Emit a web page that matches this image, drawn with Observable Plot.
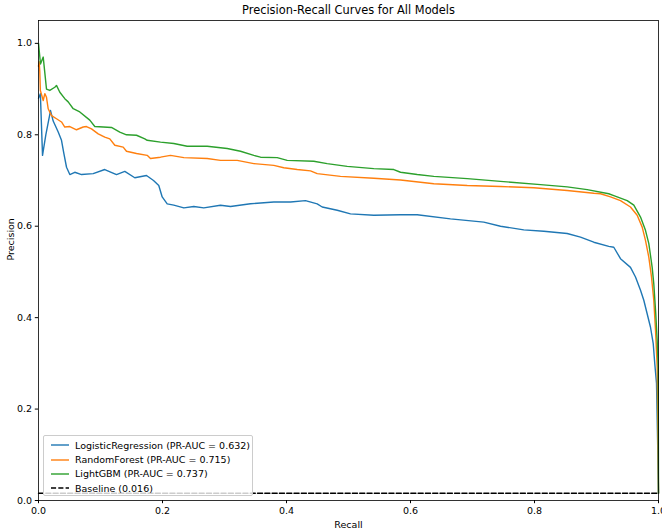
<!DOCTYPE html>
<html>
<head>
<meta charset="utf-8">
<script src="https://cdn.jsdelivr.net/npm/d3@7"></script>
<script src="https://cdn.jsdelivr.net/npm/@observablehq/plot@0.6"></script>
<style>
  html, body { margin: 0; padding: 0; background: white; }
  #wrap { position: relative; width: 662px; height: 531px; overflow: hidden; font-family: "DejaVu Sans", sans-serif; }
  #legend { position: absolute; left: 43px; top: 435px; width: 210px; height: 61px; box-sizing: border-box;
    background: rgba(255,255,255,0.8); border: 1px solid #cccccc; border-radius: 2px; padding: 2px 0 0 0; }
  .row { display: flex; align-items: center; height: 14.4px; font-size: 9.5px; color: black; white-space: nowrap; }
  .row svg { margin-left: 7px; margin-right: 6px; flex: none; }
</style>
</head>
<body>
<div id="wrap"></div>
<script>
// ---- data ----
const title = "Precision-Recall Curves for All Models";
const xLabel = "Recall";
const yLabel = "Precision";
const models = ["LogisticRegression", "RandomForest", "LightGBM"];
const aucs = [0.632, 0.715, 0.737];
const colors = ["#1f77b4", "#ff7f0e", "#2ca02c"];
const baselineValue = 0.016;
const xTicks = [0, 0.2, 0.4, 0.6, 0.8, 1.0];
const yTicks = [0, 0.2, 0.4, 0.6, 0.8, 1.0];

const lrRecall = [0, 0.003, 0.0065, 0.0118, 0.0194, 0.0237, 0.0318, 0.0371, 0.0408, 0.0452, 0.0505, 0.0585, 0.0694, 0.0882, 0.1069, 0.1258, 0.1392, 0.1553, 0.1742, 0.1855, 0.194, 0.1995, 0.2076, 0.2182, 0.2344, 0.2505, 0.2666, 0.2935, 0.3097, 0.3419, 0.3795, 0.4065, 0.4306, 0.4495, 0.4576, 0.4818, 0.5032, 0.5408, 0.5839, 0.6108, 0.6645, 0.7182, 0.7452, 0.7827, 0.815, 0.8527, 0.8742, 0.8956, 0.9198, 0.9279, 0.9387, 0.9548, 0.9629, 0.971, 0.9763, 0.9818, 0.9871, 0.9915, 0.994, 0.9968, 0.999, 1.0];
const lrPrecision = [0.88, 0.89, 0.755, 0.80, 0.853, 0.83, 0.806, 0.788, 0.76, 0.729, 0.713, 0.718, 0.713, 0.715, 0.724, 0.713, 0.72, 0.706, 0.711, 0.70, 0.689, 0.664, 0.649, 0.646, 0.640, 0.643, 0.640, 0.646, 0.643, 0.649, 0.653, 0.653, 0.656, 0.649, 0.642, 0.635, 0.627, 0.624, 0.625, 0.625, 0.616, 0.609, 0.600, 0.592, 0.589, 0.584, 0.576, 0.565, 0.556, 0.554, 0.529, 0.51, 0.489, 0.46, 0.438, 0.408, 0.379, 0.343, 0.299, 0.256, 0.10, 0.016];

const rfRecall = [0, 0.001, 0.002, 0.003, 0.0076, 0.0102, 0.0129, 0.0156, 0.021, 0.029, 0.0371, 0.0424, 0.0505, 0.0613, 0.0721, 0.0774, 0.0855, 0.0963, 0.1069, 0.115, 0.1231, 0.1366, 0.1419, 0.1581, 0.1753, 0.1806, 0.1968, 0.2129, 0.2344, 0.2721, 0.2935, 0.3205, 0.3473, 0.3795, 0.3956, 0.4173, 0.4387, 0.4495, 0.4871, 0.5408, 0.5839, 0.6376, 0.6915, 0.7452, 0.7989, 0.8527, 0.8956, 0.9065, 0.9226, 0.9387, 0.9548, 0.9656, 0.9737, 0.979, 0.9844, 0.9887, 0.9924, 0.9952, 0.9979, 0.9989, 1.0];
const rfPrecision = [0.95, 0.96, 0.94, 0.897, 0.875, 0.89, 0.882, 0.857, 0.842, 0.835, 0.828, 0.817, 0.818, 0.811, 0.817, 0.818, 0.813, 0.802, 0.795, 0.791, 0.777, 0.773, 0.764, 0.759, 0.755, 0.748, 0.751, 0.755, 0.75, 0.748, 0.744, 0.744, 0.737, 0.733, 0.728, 0.724, 0.721, 0.715, 0.709, 0.705, 0.701, 0.693, 0.689, 0.687, 0.684, 0.678, 0.672, 0.671, 0.664, 0.656, 0.642, 0.624, 0.598, 0.569, 0.532, 0.489, 0.438, 0.372, 0.292, 0.168, 0.016];

const lgbRecall = [0, 0.0032, 0.0076, 0.0129, 0.0182, 0.0263, 0.029, 0.0344, 0.0424, 0.0479, 0.056, 0.0666, 0.0827, 0.0908, 0.1044, 0.1177, 0.1311, 0.1419, 0.1581, 0.1715, 0.1753, 0.1968, 0.2182, 0.2398, 0.2721, 0.3044, 0.3258, 0.3473, 0.3581, 0.385, 0.4011, 0.444, 0.4656, 0.4979, 0.5408, 0.5731, 0.5839, 0.6108, 0.6376, 0.6915, 0.7452, 0.8097, 0.8527, 0.885, 0.9198, 0.9279, 0.9495, 0.9602, 0.971, 0.979, 0.9844, 0.9898, 0.9924, 0.9956, 0.9979, 0.9995, 1.0];
const lgbPrecision = [1.0, 0.955, 0.97, 0.90, 0.897, 0.904, 0.908, 0.893, 0.879, 0.872, 0.857, 0.85, 0.832, 0.818, 0.817, 0.816, 0.806, 0.80, 0.799, 0.791, 0.788, 0.784, 0.781, 0.775, 0.775, 0.77, 0.764, 0.755, 0.751, 0.75, 0.744, 0.742, 0.737, 0.731, 0.726, 0.724, 0.718, 0.713, 0.709, 0.704, 0.698, 0.691, 0.686, 0.68, 0.671, 0.667, 0.656, 0.646, 0.62, 0.591, 0.562, 0.51, 0.474, 0.408, 0.35, 0.29, 0.016];

// ---- build table ----
const series = [[lrRecall, lrPrecision], [rfRecall, rfPrecision], [lgbRecall, lgbPrecision]];
const rows = [];
series.forEach(([r, p], i) => r.forEach((v, j) => rows.push({model: models[i], recall: v, precision: p[j]})));
const baseRows = [{recall: 0, precision: baselineValue}, {recall: 1, precision: baselineValue}];

const chart = Plot.plot({
  width: 662,
  height: 531,
  marginLeft: 38,
  marginRight: 4,
  marginTop: 20,
  marginBottom: 31,
  style: {fontFamily: "DejaVu Sans", fontSize: "9.5px", color: "black", background: "white", overflow: "visible"},
  x: {domain: [0, 1]},
  y: {domain: [0, 1.05]},
  color: {domain: models, range: colors},
  marks: [
    Plot.line(rows, {x: "recall", y: "precision", z: "model", stroke: "model", strokeWidth: 1.4}),
    Plot.line(baseRows, {x: "recall", y: "precision", stroke: "black", strokeWidth: 1.4, strokeDasharray: "5.1,2.2"}),
    Plot.frame({stroke: "black", strokeWidth: 0.8}),
    Plot.axisX({ticks: xTicks, tickFormat: d3.format(".1f"), tickSize: 3.2, tickPadding: 3.2, label: null}),
    Plot.axisY({ticks: yTicks, tickFormat: d3.format(".1f"), tickSize: 3.2, tickPadding: 3.2, label: null}),
    Plot.text([title], {frameAnchor: "top", dy: -10, fontSize: 11.4, lineAnchor: "middle"}),
    Plot.text([xLabel], {frameAnchor: "bottom", dy: 24, lineAnchor: "middle"}),
    Plot.text([yLabel], {frameAnchor: "left", dx: -28, rotate: -90, lineAnchor: "middle"})
  ]
});

const wrap = document.getElementById("wrap");
wrap.appendChild(chart);

// ---- legend ----
const legend = document.createElement("div");
legend.id = "legend";
const entries = models.map((m, i) => ({label: `${m} (PR-AUC = ${aucs[i].toFixed(3)})`, color: colors[i], dash: null}));
entries.push({label: `Baseline (${baselineValue.toFixed(3)})`, color: "black", dash: "5.1,2.2"});
for (const e of entries) {
  const row = document.createElement("div");
  row.className = "row";
  row.innerHTML = `<svg width="18" height="4"><line x1="0" x2="18" y1="2" y2="2" stroke="${e.color}" stroke-width="1.4" ${e.dash ? `stroke-dasharray="${e.dash}"` : ""}/></svg><span>${e.label}</span>`;
  legend.appendChild(row);
}
wrap.appendChild(legend);
</script>
</body>
</html>
